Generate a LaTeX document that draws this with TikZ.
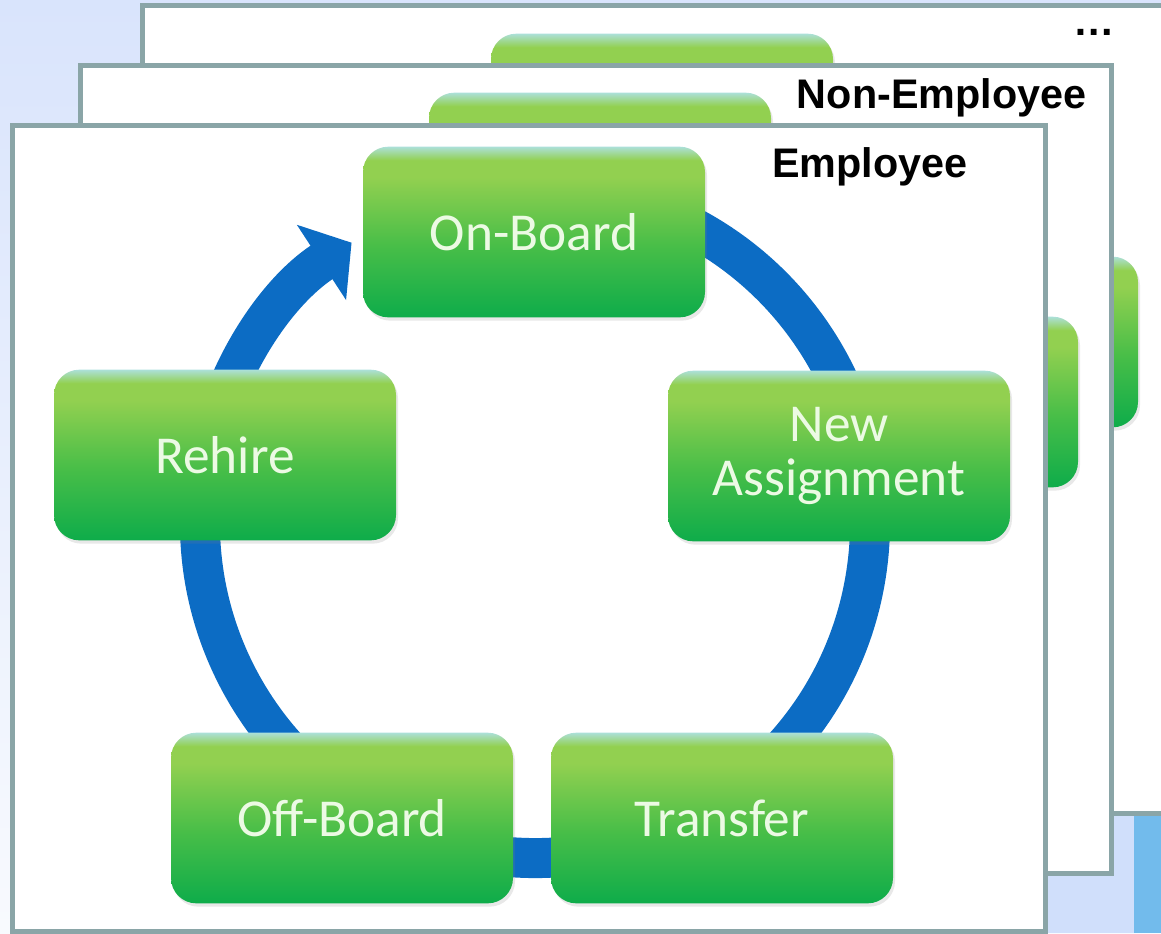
\documentclass[tikz,border=0pt]{standalone}
\usepackage{fontspec}
\setmainfont{Carlito}
\newfontfamily\headfont{Liberation Sans}
\usetikzlibrary{arrows.meta, shadows}
\definecolor{framegray}{RGB}{138,165,167}
\definecolor{ringblue}{RGB}{12,108,196}
\definecolor{boxbot}{RGB}{14,172,74}
\definecolor{boxmid}{RGB}{72,190,72}
\definecolor{boxyg}{RGB}{146,208,80}
\definecolor{boxtop}{RGB}{172,224,216}
\definecolor{labelwhite}{RGB}{236,250,228}
\definecolor{bgtop}{RGB}{217,228,252}
\definecolor{bgbot}{RGB}{248,250,254}
\definecolor{cornerblue}{RGB}{208,223,251}
\definecolor{edgeblue}{RGB}{114,187,236}
\pgfdeclareverticalshading{boxshade}{100bp}{color(0bp)=(boxbot); color(25bp)=(boxbot); color(46bp)=(boxmid); color(66bp)=(boxyg); color(71bp)=(boxyg); color(75bp)=(boxtop); color(100bp)=(boxtop)}

\begin{document}
\begin{tikzpicture}[x=0.75pt, y=-0.75pt,
    stage/.style={rectangle, rounded corners=19pt, minimum width=256.5pt, minimum height=128pt,
        shade, shading=boxshade, text=labelwhite, align=center, font=\fontsize{40}{41}\selectfont,
        drop shadow={shadow xshift=1.5pt, shadow yshift=-2.5pt, opacity=0.18}},
    frame/.style={draw=framegray, line width=3.75pt, fill=white},
    head/.style={anchor=base east, font=\headfont\bfseries\fontsize{31}{36}\selectfont}]
    \useasboundingbox (0,0) rectangle (1161,933);
    \clip (0,0) rectangle (1161,933);
    \shade[top color=bgtop, bottom color=bgbot] (0,0) rectangle (1161,933);
    \fill[cornerblue] (1045,813) rectangle (1161,933);
    \fill[edgeblue] (1134,813) rectangle (1161,933);

    % back sheet
    \draw[frame] (142,5) rectangle (1190,813);
    \node[stage] (backon) at (662,119) {};
    \node[stage] (backnew) at (967,342) {};
    \node[head] (more) at (1120,35) {…};

    % middle sheet
    \draw[frame] (80,65) rectangle (1111.5,873);
    \node[stage] (midon) at (600,178) {};
    \node[stage] (midnew) at (907,402) {};
    \node[head] (nonemp) at (1091,108) {Non-Employee};

    % front sheet
    \draw[frame] (12.5,125.5) rectangle (1045,931);
    \coordinate (ctr) at (535,523);
    \draw[ringblue, line width=30pt, -{Triangle[length=27pt, width=66pt]}]
        (ctr) ++(-80:335) arc[start angle=-80, end angle=236.8, radius=335];
    \node[stage] (onboard) at (534,232) {On-Board};
    \node[stage] (newassign) at (839,456) {New\\Assignment};
    \node[stage] (transfer) at (722,818) {Transfer};
    \node[stage] (offboard) at (342,818) {Off-Board};
    \node[stage] (rehire) at (225,455) {Rehire};
    \node[head] (emp) at (972,177) {Employee};
\end{tikzpicture}
\end{document}
